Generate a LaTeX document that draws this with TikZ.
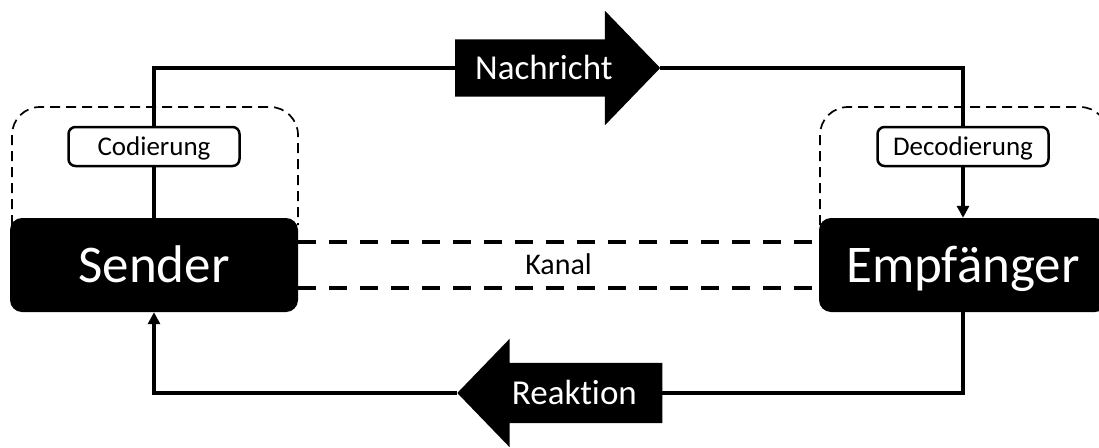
\documentclass[tikz,border=0pt]{standalone}
\usepackage{fontspec}
\setmainfont{Carlito}[Ligatures=NoCommon]
\usetikzlibrary{arrows.meta, shapes.arrows, calc}

\begin{document}
\begin{tikzpicture}[
    x=1pt, y=-1pt,
    party/.style={
        fill=black, text=white, rounded corners=12pt,
        minimum width=288pt, minimum height=94pt, inner sep=0pt,
        text height=34pt, text depth=0pt,
        font=\fontsize{53}{60}\selectfont
    },
    codebox/.style={
        draw, fill=white, line width=2.5pt, rounded corners=7pt,
        minimum width=171pt, minimum height=39pt, inner sep=0pt,
        text height=17.4pt, text depth=0pt,
        font=\fontsize{27}{32}\selectfont
    },
    flow/.style={
        single arrow, fill=black, text=white,
        inner xsep=0pt, inner ysep=17.3pt,
        minimum height=205pt,
        single arrow head extend=28.5pt, single arrow tip angle=92,
        text height=22.4pt, text depth=0pt,
        font=\fontsize{35}{40}\selectfont
    },
    conn/.style={line width=3.2pt},
    arr/.style={-{Triangle[length=12pt, width=12pt]}, line width=3.2pt},
    channel/.style={line width=4pt, dash pattern=on 18pt off 13pt},
    region/.style={line width=1.7pt, dash pattern=on 10pt off 6pt, rounded corners=28pt}
]

\clip (0,0) rectangle (1099,447);

%% ---- dashed groupings (drawn first, boxes sit on top) ----
\draw[region] (12,225) -- (12,107) -- (298,107) -- (298,225);
\draw[region] (820,225) -- (820,107) -- (1108,107) -- (1108,225);

%% ---- Nodes ----

% sender and receiver
\node[party] at (154,265) (sender) {Sender};
\node[party] at (963,265) (empf)   {Empfänger};

% encoding / decoding
\node[codebox] at (154,146.5) (cod)   {Codierung};
\node[codebox] at (963,146.5) (decod) {Decodierung};

% message and feedback arrows
\node[flow, anchor=tail] at (455,68) (msg) {Nachricht};
\node[flow, shape border rotate=180, inner ysep=18.8pt,
      single arrow head extend=24pt, anchor=tip]
                         at (457,393) (reply) {Reaktion};

% channel label
\node[font=\fontsize{30}{36}\selectfont, text height=19pt, text depth=0pt]
    at ($(sender.east)!0.5!(empf.west)$) (kanal) {Kanal};

%% ---- Connectors ----

% sender -> message -> receiver
\draw[conn] (sender.north) -- (cod.south);
\draw[conn] (cod.north) |- (msg.tail);
\draw[conn] (msg.tip) -| (decod.north);
\draw[arr]  (decod.south) -- (empf.north);

% receiver -> feedback -> sender
\draw[conn] (empf.south) |- (reply.tail);
\draw[arr]  (reply.tip) -| (sender.south);

% channel
\draw[channel] ([yshift=23pt]sender.east) -- ([yshift=23pt]empf.west);
\draw[channel] ([yshift=-23pt]sender.east) -- ([yshift=-23pt]empf.west);

\end{tikzpicture}
\end{document}
